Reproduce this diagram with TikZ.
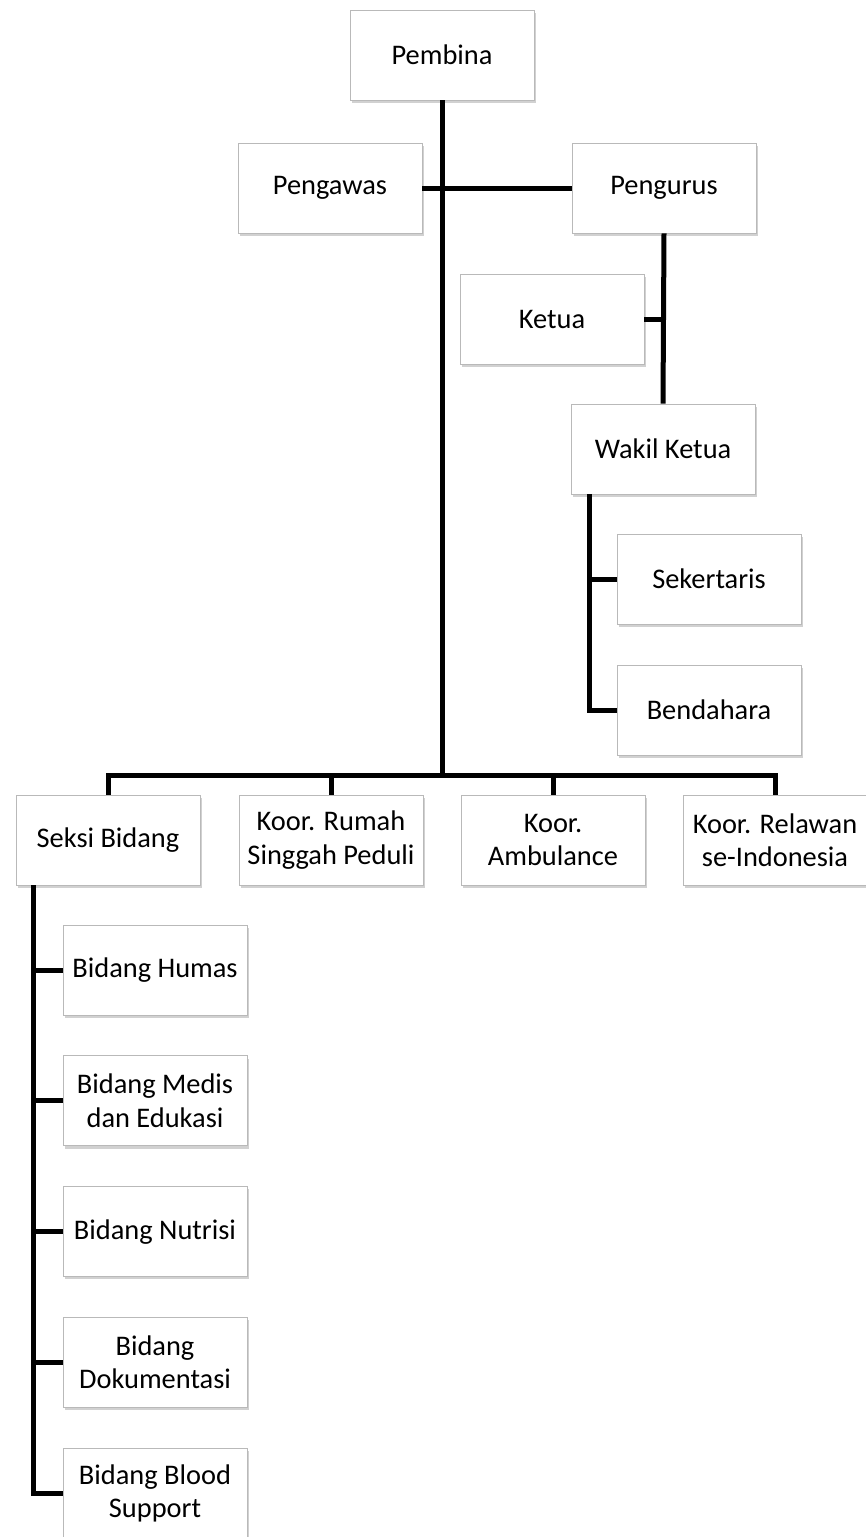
\documentclass[tikz,border=0pt]{standalone}
\usepackage{fontspec}
\setmainfont{Carlito}
\usetikzlibrary{positioning,calc,shadows}

\begin{document}
\begin{tikzpicture}[
    x=0.5pt, y=-0.5pt,
    node distance=20pt,
    unit/.style={draw=gray!55, line width=0.4pt, fill=white, minimum width=92pt, minimum height=45pt,
        align=center, font=\fontsize{14.2}{16.6}\selectfont, inner sep=1pt,
        drop shadow={shadow xshift=0.9pt, shadow yshift=-1.4pt, opacity=0.45, fill=gray!80}},
    link/.style={line width=2.5pt, line join=miter},
]
\useasboundingbox (0,0) rectangle (866,1537);

\node[unit] (pembina) at (442,55) {Pembina};
\node[unit] (pengawas) at (330,188) {Pengawas};
\node[unit] (pengurus) at (664,188) {Pengurus};
\node[unit] (ketua) at (552,319) {Ketua};
\node[unit] (wakil) at (663,449) {Wakil Ketua};
\node[unit] (sekertaris) at (709,579) {Sekertaris};
\node[unit] (bendahara) at (709,710) {Bendahara};

\node[unit] (seksi) at (108,840) {Seksi Bidang};
\node[unit] (rumah) at (331,840) {Koor. Rumah\\Singgah Peduli};
\node[unit] (ambulance) at (553,840) {Koor.\\Ambulance};
\node[unit] (relawan) at (775,840) {Koor. Relawan\\se-Indonesia};

\node[unit] (humas) at (155,970) {Bidang Humas};
\node[unit, below=of humas] (medis) {Bidang Medis\\dan Edukasi};
\node[unit, below=of medis] (nutrisi) {Bidang Nutrisi};
\node[unit, below=of nutrisi] (dokumentasi) {Bidang\\Dokumentasi};
\node[unit, below=of dokumentasi] (blood) {Bidang Blood\\Support};

\coordinate (bus) at (442,775);

\draw[link] (pembina.south) -- (bus);
\draw[link] (pengawas.east) -- (pengurus.west);
\draw[link] (pengurus.south) -- (wakil.north);
\draw[link] (ketua.east) -- (ketua.east -| pengurus.south);
\draw[link] ($(wakil.south west)+(19,0)$) |- (sekertaris.west);
\draw[link] ($(wakil.south west)+(19,0)$) |- (bendahara.west);

\draw[link] (seksi.north) |- (bus) -| (relawan.north);
\draw[link] (rumah.north) -- (rumah.north |- bus);
\draw[link] (ambulance.north) -- (ambulance.north |- bus);

% Seksi Bidang branches down the left side
\coordinate (tap) at ($(seksi.south west)+(18,0)$);
\draw[link] (tap) |- (blood.west);
\foreach \b in {humas,medis,nutrisi,dokumentasi}
    \draw[link] (\b.west) -- (\b.west -| tap);
\end{tikzpicture}
\end{document}
